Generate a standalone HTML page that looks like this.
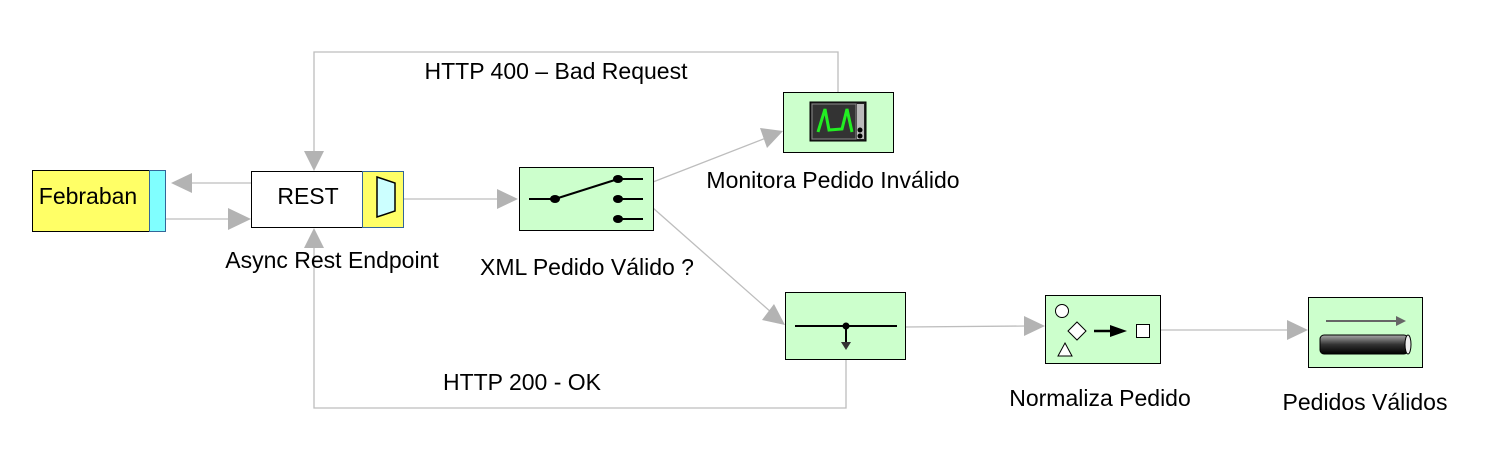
<!DOCTYPE html>
<html><head><meta charset="utf-8"><style>
html,body{margin:0;padding:0;background:#fff;}
svg{display:block;}
text{font-family:"Liberation Sans",Arial,sans-serif;font-size:23px;fill:#000;}
</style></head><body>
<svg width="1494" height="463" viewBox="0 0 1494 463" xmlns="http://www.w3.org/2000/svg">
<defs>
<linearGradient id="pipe" x1="0" y1="0" x2="0" y2="1">
<stop offset="0" stop-color="#aaa"/><stop offset="0.5" stop-color="#333"/><stop offset="1" stop-color="#000"/></linearGradient>
</defs>
<g stroke="#bdbdbd" stroke-width="1.3" fill="none">
<line x1="251" y1="183" x2="190" y2="183"/>
<line x1="165" y1="219" x2="230" y2="219"/>
<line x1="403" y1="199" x2="500" y2="199"/>
<line x1="653" y1="182" x2="766" y2="138"/>
<polyline points="838,92 838,52 314,52 314,152"/>
<line x1="653" y1="208" x2="772" y2="313"/>
<polyline points="846,359 846,408 314,408 314,246"/>
<line x1="905" y1="327" x2="1027" y2="326"/>
<line x1="1160" y1="330" x2="1290" y2="330"/>
</g>
<g fill="#b3b3b3">
<polygon points="171,183 192,173 192,193"/>
<polygon points="251,219 228,208 228,230"/>
<polygon points="518,199 497,189 497,209"/>
<polygon points="783,131 760,128 767,148"/>
<polygon points="314,171 304,151 324,151"/>
<polygon points="785,325 762,320 774,304"/>
<polygon points="314,228 304,248 324,248"/>
<polygon points="1045,326 1024,316 1024,336"/>
<polygon points="1308,330 1287,320 1287,340"/>
</g>
<rect x="32.5" y="170.5" width="117" height="61" fill="#ffff66" stroke="#000"/>
<rect x="149.5" y="170.5" width="16" height="61" fill="#80ffff" stroke="#336699"/>
<text x="88" y="204" text-anchor="middle">Febraban</text>
<rect x="251.5" y="171.5" width="111" height="56" fill="#fff" stroke="#000"/>
<rect x="362.5" y="171.5" width="41" height="56" fill="#ffff66" stroke="#336699"/>
<polygon points="377,177 395,183 395,211 377,217" fill="#ccffff" stroke="#000" stroke-width="1.5"/>
<text x="308" y="204" text-anchor="middle">REST</text>
<text x="332" y="268" text-anchor="middle">Async Rest Endpoint</text>
<rect x="519.5" y="167.5" width="134" height="63" fill="#ccffcc" stroke="#000"/>
<g stroke="#000" stroke-width="2">
<line x1="529" y1="199" x2="555" y2="199"/><line x1="555" y1="199" x2="618" y2="179"/>
<line x1="618" y1="179" x2="643" y2="179"/><line x1="618" y1="199" x2="643" y2="199"/><line x1="618" y1="219" x2="643" y2="219"/>
</g>
<g fill="#000"><ellipse cx="555" cy="199" rx="5" ry="4"/><ellipse cx="618" cy="179" rx="5" ry="4"/><ellipse cx="618" cy="199" rx="5" ry="4"/><ellipse cx="618" cy="219" rx="5" ry="4"/></g>
<text x="587" y="275" text-anchor="middle">XML Pedido Válido ?</text>
<rect x="783.5" y="92.5" width="110" height="60" fill="#ccffcc" stroke="#000"/>
<rect x="810" y="102" width="56" height="39" fill="#222" stroke="#000"/>
<rect x="812" y="104" width="44" height="35" fill="#333" stroke="#888"/>
<rect x="857" y="104" width="7" height="35" fill="#bbb"/>
<circle cx="860" cy="130" r="2.5" fill="#000"/><circle cx="860" cy="136" r="2.5" fill="#000"/>
<polyline points="818,132 825,109 829,130 842,129 847,109 852,132" fill="none" stroke="#22ee22" stroke-width="3"/>
<text x="833" y="188" text-anchor="middle">Monitora Pedido Inválido</text>
<rect x="785.5" y="292.5" width="120" height="67" fill="#ccffcc" stroke="#000"/>
<line x1="795" y1="326" x2="897" y2="326" stroke="#000" stroke-width="2"/>
<line x1="846" y1="326" x2="846" y2="343" stroke="#000" stroke-width="2"/>
<circle cx="846" cy="326" r="3.5" fill="#000"/>
<polygon points="841,342 851,342 846,350" fill="#333"/>
<text x="522" y="390" text-anchor="middle">HTTP 200 - OK</text>
<text x="556" y="79" text-anchor="middle">HTTP 400 – Bad Request</text>
<rect x="1045.5" y="295.5" width="115" height="68" fill="#ccffcc" stroke="#000"/>
<circle cx="1062" cy="311" r="6.5" fill="#fff" stroke="#000"/>
<polygon points="1077,322 1086,331 1077,340 1068,331" fill="#fff" stroke="#000"/>
<polygon points="1065,343 1072,356 1058,356" fill="#fff" stroke="#000"/>
<line x1="1094" y1="331" x2="1112" y2="331" stroke="#000" stroke-width="2.5"/>
<polygon points="1110,325 1127,331 1110,337" fill="#000"/>
<rect x="1136.5" y="324.5" width="13" height="13" fill="#fff" stroke="#000"/>
<text x="1100" y="406" text-anchor="middle">Normaliza Pedido</text>
<rect x="1308.5" y="297.5" width="114" height="70" fill="#ccffcc" stroke="#000"/>
<line x1="1326" y1="321" x2="1398" y2="321" stroke="#666" stroke-width="2"/>
<polygon points="1396,316 1406,321 1396,326" fill="#666"/>
<rect x="1320" y="335" width="88" height="19" rx="4" fill="url(#pipe)" stroke="#000"/>
<ellipse cx="1408" cy="344.5" rx="3" ry="9.5" fill="#eee" stroke="#000"/>
<text x="1365" y="410" text-anchor="middle">Pedidos Válidos</text>
</svg>
</body></html>
